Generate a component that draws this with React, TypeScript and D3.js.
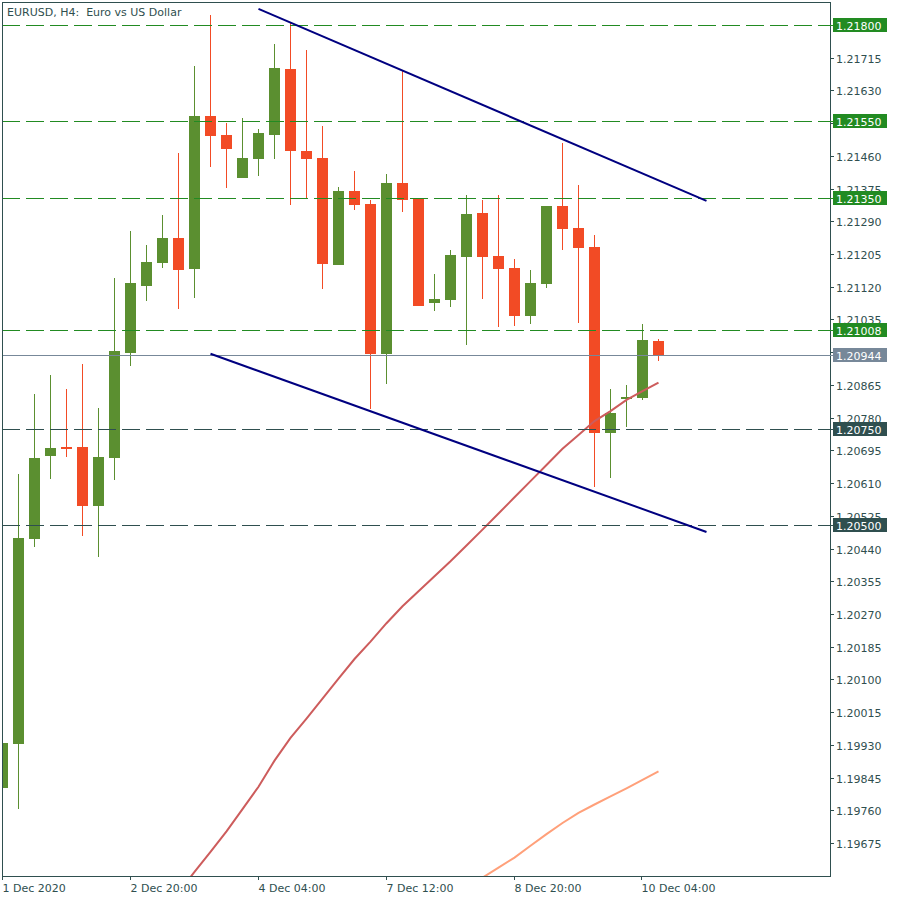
import React from "react";
import * as d3 from "d3";

const W = 900;
const H = 900;
const plot = { left: 2, top: 2, right: 830, bottom: 876 };

// OHLC per 4H bar (index 0 = 1 Dec 12:00)
const opens = [1.19819, 1.19933, 1.20466, 1.20681, 1.20704, 1.20704, 1.20551, 1.20676, 1.20949, 1.21123, 1.21183, 1.21247, 1.21167, 1.21564, 1.21514, 1.21403, 1.21453, 1.21515, 1.21686, 1.21473, 1.21454, 1.21177, 1.21369, 1.21335, 1.20946, 1.2139, 1.21349, 1.21079, 1.21086, 1.21198, 1.21312, 1.212, 1.21169, 1.21045, 1.21128, 1.2133, 1.21273, 1.21223, 1.20741, 1.20828, 1.20832, 1.20979];
const highs = [1.1994, 1.20634, 1.20841, 1.20891, 1.20854, 1.20919, 1.20805, 1.21144, 1.21266, 1.21228, 1.21306, 1.21467, 1.21693, 1.21826, 1.21545, 1.21558, 1.2153, 1.21751, 1.21808, 1.21735, 1.21538, 1.21379, 1.21421, 1.21345, 1.21413, 1.21681, 1.21349, 1.21153, 1.21216, 1.21358, 1.21345, 1.21358, 1.21192, 1.21164, 1.2133, 1.21493, 1.21384, 1.21254, 1.20854, 1.20865, 1.21023, 1.20984];
const lows = [1.1981, 1.19764, 1.20445, 1.20621, 1.20679, 1.20473, 1.20419, 1.20619, 1.20915, 1.21083, 1.2117, 1.21063, 1.21092, 1.2143, 1.21377, 1.21403, 1.21409, 1.21453, 1.21333, 1.21351, 1.21115, 1.21177, 1.2132, 1.20803, 1.20868, 1.21315, 1.21071, 1.21058, 1.21068, 1.20969, 1.21089, 1.21016, 1.21019, 1.21024, 1.21118, 1.21216, 1.21027, 1.20601, 1.20624, 1.20756, 1.20827, 1.20928];
const closes = [1.19934, 1.20467, 1.20675, 1.20701, 1.20699, 1.20551, 1.20678, 1.20953, 1.2113, 1.21184, 1.21247, 1.21164, 1.21564, 1.21512, 1.21479, 1.21454, 1.21519, 1.21688, 1.21473, 1.21453, 1.2118, 1.21369, 1.21333, 1.20946, 1.2139, 1.21346, 1.21071, 1.21088, 1.21202, 1.21309, 1.21198, 1.21167, 1.21045, 1.2113, 1.2133, 1.21271, 1.21221, 1.20741, 1.20792, 1.20834, 1.20982, 1.20944];

// Moving averages
const maFastStart = 11;
const maFast = [1.19546, 1.196, 1.19652, 1.19705, 1.19763, 1.19821, 1.19889, 1.19948, 1.19998, 1.2005, 1.20102, 1.20153, 1.20198, 1.20246, 1.2029, 1.20329, 1.20368, 1.20407, 1.20448, 1.20489, 1.20531, 1.20573, 1.20615, 1.20657, 1.20699, 1.20735, 1.20771, 1.20797, 1.20826, 1.20849, 1.20871];
const maSlowStart = 30;
const maSlow = [1.19585, 1.19611, 1.19637, 1.19668, 1.19698, 1.19727, 1.19753, 1.19775, 1.19796, 1.19817, 1.19839, 1.19861];

// Trend lines (bar index, price)
const trendUpperIdx = [16, 44];
const trendUpperPrice = [1.21842, 1.21343];
const trendLowerIdx = [13, 44];
const trendLowerPrice = [1.20946, 1.20483];

// Horizontal levels
const levelPrices = [1.218, 1.2155, 1.2135, 1.21008, 1.20944, 1.2075, 1.205];
const levelKinds = ["green", "green", "green", "green", "bid", "dark", "dark"];

// Axis ticks (labels fully covered by level boxes are not printed)
const yTicks = ["1.19675", "1.19760", "1.19845", "1.19930", "1.20015", "1.20100", "1.20185", "1.20270", "1.20355", "1.20440", "1.20525", "1.20610", "1.20695", "1.20780", "1.20865", "1.20950", "1.21035", "1.21120", "1.21205", "1.21290", "1.21375", "1.21460", "1.21545", "1.21630", "1.21715", "1.21800"];
const yTicksHidden = ["1.20950", "1.21545", "1.21800"];
const dateIdx = [0, 8, 16, 24, 32, 40];
const dateLabels = ["1 Dec 2020", "2 Dec 20:00", "4 Dec 04:00", "7 Dec 12:00", "8 Dec 20:00", "10 Dec 04:00"];

const AXIS = "#2f4f4f";
const UP = "#5b8f30";
const DOWN = "#f24b25";
const FONT = "DejaVu Sans";

const kindColor: Record<string, string> = {
  green: "#228b22",
  bid: "#778899",
  dark: "#2f4f4f",
};

export default function App() {
  const x = d3.scaleLinear().domain([0, 41]).range([2.5, 658.5]);
  const y = d3.scaleLinear().domain([1.19675, 1.218]).range([843, 25]);

  const line = d3
    .line<[number, number]>()
    .x((d) => x(d[0]))
    .y((d) => y(d[1]));

  const fastPts: [number, number][] = maFast.map((v, k) => [maFastStart + k, v]);
  const slowPts: [number, number][] = maSlow.map((v, k) => [maSlowStart + k, v]);
  const upPts: [number, number][] = trendUpperIdx.map((v, k) => [v, trendUpperPrice[k]]);
  const loPts: [number, number][] = trendLowerIdx.map((v, k) => [v, trendLowerPrice[k]]);

  return (
    <svg
      width={W}
      height={H}
      style={{ position: "absolute", left: 0, top: 0, background: "#fff" }}
      fontFamily={FONT}
    >
      <defs>
        <clipPath id="plotClip">
          <rect x={plot.left} y={plot.top} width={plot.right - plot.left} height={plot.bottom - plot.top} />
        </clipPath>
      </defs>
      <rect x={0} y={0} width={W} height={H} fill="#fff" />

      <g clipPath="url(#plotClip)">
        {/* candles */}
        {opens.map((o, i) => {
          const c = closes[i];
          const up = c >= o;
          const col = up ? UP : DOWN;
          const cx = x(i);
          const top = y(Math.max(o, c));
          const bot = y(Math.min(o, c));
          return (
            <g key={i} shapeRendering="crispEdges">
              <rect x={cx - 0.5} y={y(highs[i])} width={1} height={y(lows[i]) - y(highs[i])} fill={col} />
              <rect x={cx - 5.5} y={top} width={11} height={Math.max(2, bot - top)} fill={col} />
            </g>
          );
        })}

        {/* moving averages */}
        <path d={line(fastPts) || ""} fill="none" stroke="#cd5c5c" strokeWidth={2} />
        <path d={line(slowPts) || ""} fill="none" stroke="#ffa07a" strokeWidth={2} />

        {/* level lines */}
        {levelPrices.map((p, k) => {
          const yy = Math.round(y(p)) + 0.5;
          const kind = levelKinds[k];
          return (
            <line
              key={k}
              x1={plot.left}
              x2={plot.right}
              y1={yy}
              y2={yy}
              stroke={kindColor[kind]}
              strokeWidth={1}
              strokeDasharray={kind === "bid" ? undefined : "18,6"}
              shapeRendering="crispEdges"
            />
          );
        })}

        {/* trend lines */}
        <path d={line(upPts) || ""} fill="none" stroke="#000080" strokeWidth={2} />
        <path d={line(loPts) || ""} fill="none" stroke="#000080" strokeWidth={2} />
      </g>

      {/* frame */}
      <rect
        x={plot.left + 0.5}
        y={plot.top + 0.5}
        width={plot.right - plot.left}
        height={plot.bottom - plot.top}
        fill="none"
        stroke={AXIS}
        strokeWidth={1}
        shapeRendering="crispEdges"
      />

      {/* y ticks */}
      {yTicks.map((t) => {
        const yy = Math.round(y(+t)) + 0.5;
        return (
          <g key={t}>
            <line x1={plot.right} x2={plot.right + 4} y1={yy} y2={yy} stroke={AXIS} shapeRendering="crispEdges" />
            {yTicksHidden.indexOf(t) < 0 && (
              <text x={836} y={yy + 4} fontSize={11} fill={AXIS}>
                {t}
              </text>
            )}
          </g>
        );
      })}

      {/* level labels */}
      {levelPrices.map((p, k) => {
        const yy = Math.round(y(p));
        const kind = levelKinds[k];
        return (
          <g key={k}>
            <line x1={plot.right} x2={833} y1={yy + 0.5} y2={yy + 0.5} stroke={kindColor[kind]} shapeRendering="crispEdges" />
            <rect x={833} y={yy - 7} width={54} height={14} fill={kindColor[kind]} shapeRendering="crispEdges" />
            <text x={836} y={yy + 4.5} fontSize={11} fill="#fff">
              {p.toFixed(5)}
            </text>
          </g>
        );
      })}

      {/* x ticks */}
      {dateIdx.map((di, k) => {
        const xx = Math.round(x(di)) - 0.5;
        return (
          <g key={k}>
            <line x1={xx} x2={xx} y1={plot.bottom} y2={plot.bottom + 4} stroke={AXIS} shapeRendering="crispEdges" />
            <text x={xx} y={892} fontSize={11} fill={AXIS}>
              {dateLabels[k]}
            </text>
          </g>
        );
      })}

      {/* title */}
      <text x={7} y={16} fontSize={11} fill={AXIS}>
        EURUSD, H4:{"\u00a0\u00a0"}Euro vs US Dollar
      </text>
    </svg>
  );
}
